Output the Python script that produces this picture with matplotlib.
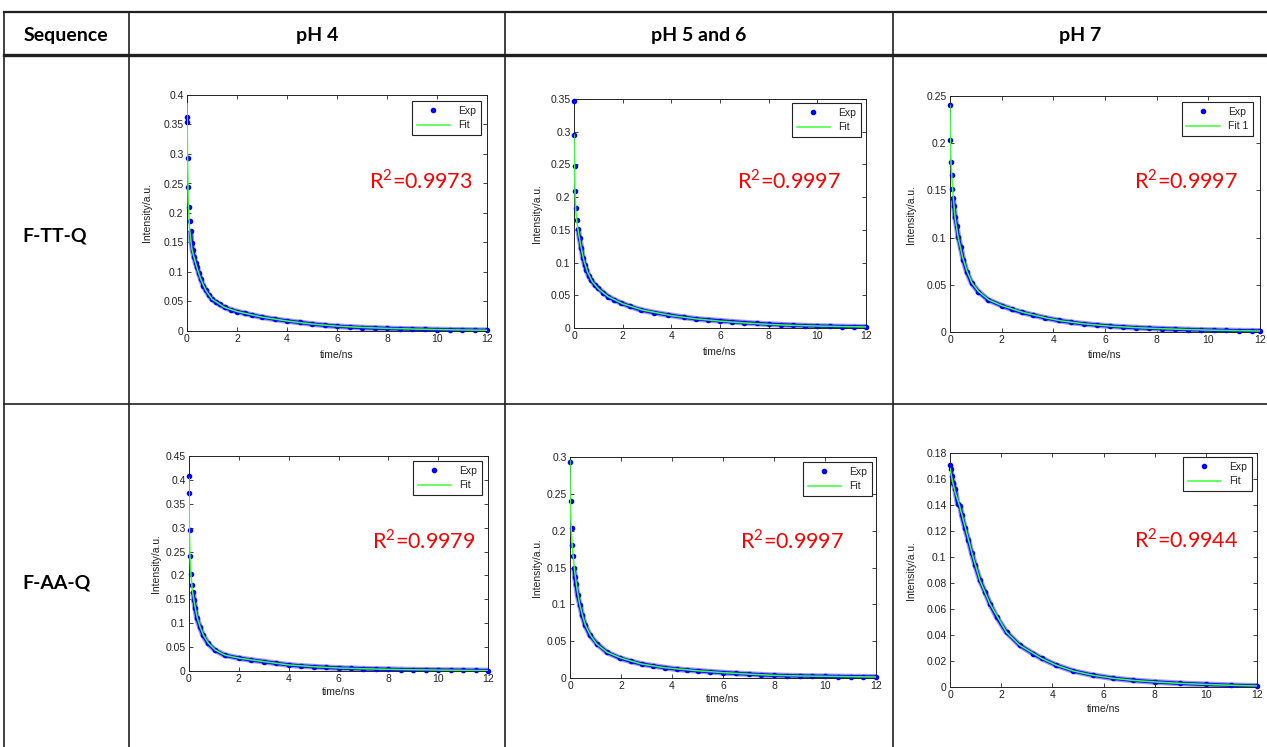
import matplotlib
matplotlib.use("Agg")
import matplotlib.pyplot as plt
from matplotlib.lines import Line2D
from matplotlib.ticker import MultipleLocator, FuncFormatter

plt.rcParams["mathtext.fontset"] = "custom"
plt.rcParams["mathtext.rm"] = "Lato"

# ---- table text ----
header_labels = ["Sequence", "pH 4", "pH 5 and 6", "pH 7"]
row_labels = ["F-TT-Q", "F-AA-Q"]

# ---- fluorescence decay traces (time in ns, intensity in a.u.) ----
# F-TT-Q, pH 4
t_ttq_4 = [0.0, 0.01, 0.02, 0.04, 0.07, 0.10, 0.14, 0.18, 0.22, 0.28, 0.34, 0.40, 0.47,
           0.55, 0.65, 0.75, 0.87, 1.0, 1.15, 1.3, 1.5, 1.75, 2.0, 2.3, 2.6, 3.0, 3.5,
           4.0, 4.5, 5.0, 5.5, 6.0, 6.5, 7.0, 7.5, 8.0, 8.5, 9.0, 9.5, 10.0, 10.5, 11.0,
           11.5, 12.0]
exp_ttq_4 = [0.363, 0.355, 0.293, 0.244, 0.211, 0.186, 0.170, 0.149, 0.138, 0.126, 0.116,
             0.108, 0.098, 0.088, 0.077, 0.069, 0.061, 0.054, 0.049, 0.045, 0.040, 0.036,
             0.033, 0.030, 0.027, 0.0235, 0.020, 0.017, 0.0145, 0.0118, 0.0097, 0.008,
             0.0068, 0.0058, 0.005, 0.0043, 0.0037, 0.0032, 0.0028, 0.0024, 0.002, 0.0017,
             0.0014, 0.0012]
fit_t_ttq_4 = [0.0, 0.02, 0.05, 0.10, 0.15, 0.2, 0.28, 0.4, 0.55, 0.75, 1.0, 1.5, 2.0, 3.0,
               4.0, 5.0, 6.0, 7.0, 8.0, 9.0, 10.0, 11.0, 12.0]
fit_ttq_4 = [0.385, 0.30, 0.22, 0.175, 0.155, 0.138, 0.125, 0.107, 0.088, 0.069, 0.054,
             0.040, 0.033, 0.0235, 0.017, 0.0118, 0.0082, 0.006, 0.0045, 0.0034, 0.0025,
             0.0018, 0.0013]

# F-TT-Q, pH 5 and 6
t_ttq_56 = [0.0, 0.02, 0.04, 0.055, 0.07, 0.12, 0.16, 0.23, 0.30, 0.37, 0.44, 0.51, 0.60,
            0.71, 0.85, 0.99, 1.2, 1.4, 1.65, 1.95, 2.3, 2.77, 3.3, 3.86, 4.5, 5.0, 5.5,
            6.0, 6.5, 7.0, 7.5, 8.0, 8.5, 9.0, 9.5, 10.0, 10.5, 11.0, 11.5, 12.0]
exp_ttq_56 = [0.347, 0.295, 0.247, 0.209, 0.184, 0.165, 0.152, 0.137, 0.122, 0.107, 0.097,
              0.089, 0.080, 0.073, 0.066, 0.061, 0.054, 0.048, 0.043, 0.038, 0.033, 0.0275,
              0.0235, 0.020, 0.0165, 0.014, 0.0125, 0.011, 0.0095, 0.0082, 0.007, 0.0058,
              0.005, 0.0042, 0.0036, 0.003, 0.0026, 0.0022, 0.0019, 0.0016]
fit_t_ttq_56 = [0.0, 0.02, 0.04, 0.07, 0.12, 0.2, 0.3, 0.4, 0.55, 0.75, 1.0, 1.4, 2.0, 2.8,
                4.0, 5.0, 6.0, 7.0, 8.0, 9.0, 10.0, 11.0, 12.0]
fit_ttq_56 = [0.295, 0.25, 0.21, 0.18, 0.162, 0.142, 0.122, 0.104, 0.086, 0.071, 0.060,
              0.048, 0.037, 0.0275, 0.019, 0.014, 0.0105, 0.0078, 0.0055, 0.004, 0.003,
              0.0022, 0.0016]

# F-TT-Q, pH 7
t_ttq_7 = [0.0, 0.01, 0.026, 0.065, 0.09, 0.116, 0.155, 0.19, 0.26, 0.32, 0.41, 0.52, 0.645,
           0.84, 1.1, 1.48, 2.0, 2.4, 2.77, 3.2, 3.68, 4.2, 4.7, 5.2, 5.7, 6.2, 6.7, 7.2,
           7.7, 8.2, 8.7, 9.2, 9.7, 10.2, 10.7, 11.2, 11.7, 12.0]
exp_ttq_7 = [0.2405, 0.203, 0.180, 0.166, 0.151, 0.142, 0.133, 0.122, 0.112, 0.101, 0.090,
             0.076, 0.064, 0.0516, 0.0427, 0.034, 0.028, 0.024, 0.021, 0.018, 0.015, 0.0122,
             0.0102, 0.0086, 0.0073, 0.0062, 0.0053, 0.0046, 0.004, 0.0035, 0.003, 0.0026,
             0.0022, 0.0019, 0.0016, 0.0014, 0.0012, 0.0011]
fit_t_ttq_7 = [0.0, 0.02, 0.06, 0.1, 0.15, 0.2, 0.32, 0.48, 0.65, 0.85, 1.1, 1.5, 2.0, 2.8,
               3.7, 4.3, 5.2, 6.2, 7.2, 8.2, 9.2, 10.2, 11.2, 12.0]
fit_ttq_7 = [0.24, 0.19, 0.17, 0.152, 0.135, 0.12, 0.10, 0.08, 0.065, 0.052, 0.043, 0.034,
             0.028, 0.021, 0.015, 0.0118, 0.0086, 0.0062, 0.0046, 0.0035, 0.0026, 0.0019,
             0.0014, 0.0011]

# F-AA-Q, pH 4
t_aaq_4 = [0.0, 0.01, 0.027, 0.05, 0.09, 0.13, 0.16, 0.2, 0.25, 0.32, 0.43, 0.56, 0.76, 1.03,
           1.43, 2.0, 2.5, 3.0, 3.5, 4.0, 4.5, 5.0, 5.5, 6.0, 6.5, 7.0, 7.5, 8.0, 8.5, 9.0,
           9.5, 10.0, 10.5, 11.0, 11.5, 12.0]
exp_aaq_4 = [0.408, 0.373, 0.295, 0.241, 0.203, 0.181, 0.166, 0.149, 0.131, 0.110, 0.093,
             0.075, 0.058, 0.044, 0.033, 0.027, 0.023, 0.0197, 0.016, 0.0127, 0.0105, 0.009,
             0.0075, 0.0063, 0.0054, 0.0047, 0.004, 0.0035, 0.003, 0.0026, 0.0023, 0.002,
             0.0017, 0.0014, 0.0011, 0.0009]
fit_t_aaq_4 = [0.0, 0.015, 0.04, 0.08, 0.13, 0.19, 0.26, 0.34, 0.45, 0.58, 0.78, 1.05, 1.45,
               2.0, 3.0, 4.0, 5.0, 6.0, 7.0, 8.0, 9.0, 10.0, 11.0, 12.0]
fit_aaq_4 = [0.404, 0.30, 0.24, 0.20, 0.17, 0.15, 0.13, 0.11, 0.092, 0.075, 0.058, 0.044,
             0.033, 0.027, 0.0197, 0.0127, 0.009, 0.0063, 0.0047, 0.0035, 0.0026, 0.002,
             0.0014, 0.0009]

# F-AA-Q, pH 5 and 6
t_aaq_56 = [0.0, 0.026, 0.065, 0.09, 0.13, 0.157, 0.196, 0.235, 0.3, 0.39, 0.48, 0.59, 0.78,
            1.05, 1.44, 1.96, 2.4, 2.81, 3.25, 3.73, 4.2, 4.6, 5.0, 5.5, 6.0, 6.5, 7.0, 7.5,
            8.0, 8.5, 9.0, 9.5, 10.0, 10.5, 11.0, 11.5, 12.0]
exp_aaq_56 = [0.293, 0.240, 0.204, 0.181, 0.166, 0.149, 0.137, 0.127, 0.112, 0.099, 0.085,
              0.072, 0.058, 0.0466, 0.035, 0.027, 0.0225, 0.019, 0.0165, 0.014, 0.012,
              0.0108, 0.0098, 0.0085, 0.0073, 0.0063, 0.0053, 0.0044, 0.0036, 0.0032,
              0.0028, 0.0025, 0.0023, 0.002, 0.0018, 0.0016, 0.0014]
fit_t_aaq_56 = [0.0, 0.01, 0.05, 0.09, 0.14, 0.2, 0.28, 0.38, 0.49, 0.6, 0.8, 1.05, 1.45,
                2.0, 2.8, 3.7, 5.0, 6.0, 7.0, 8.0, 9.0, 10.0, 11.0, 12.0]
fit_aaq_56 = [0.295, 0.235, 0.20, 0.178, 0.16, 0.14, 0.12, 0.10, 0.085, 0.072, 0.058, 0.046,
              0.035, 0.027, 0.019, 0.014, 0.0098, 0.0073, 0.0053, 0.0036, 0.0028, 0.0023,
              0.0018, 0.0014]

# F-AA-Q, pH 7
t_aaq_7 = [0.0, 0.02, 0.065, 0.13, 0.2, 0.3, 0.4, 0.46, 0.59, 0.72, 0.85, 0.98, 1.17, 1.37,
           1.56, 1.82, 2.21, 2.73, 3.25, 3.58, 4.16, 4.82, 5.6, 6.38, 7.16, 8.0, 9.0, 10.0,
           11.0, 12.0]
exp_aaq_7 = [0.171, 0.168, 0.162, 0.157, 0.152, 0.141, 0.139, 0.132, 0.122, 0.113, 0.103,
             0.094, 0.082, 0.073, 0.064, 0.054, 0.042, 0.032, 0.0257, 0.022, 0.0167, 0.0123,
             0.009, 0.0067, 0.0051, 0.0039, 0.0028, 0.002, 0.0013, 0.0008]
fit_t_aaq_7 = [0.0, 0.1, 0.2, 0.35, 0.5, 0.7, 0.9, 1.17, 1.56, 2.21, 2.73, 3.58, 4.16, 4.82,
               5.6, 6.38, 7.16, 8.0, 9.0, 10.0, 11.0, 12.0]
fit_aaq_7 = [0.168, 0.158, 0.150, 0.141, 0.130, 0.115, 0.100, 0.082, 0.064, 0.042, 0.032,
             0.022, 0.0167, 0.0123, 0.009, 0.0067, 0.0051, 0.0039, 0.0028, 0.002, 0.0013,
             0.0008]

r2_values = ["0.9973", "0.9997", "0.9997", "0.9979", "0.9997", "0.9944"]
fit_labels = ["Fit", "Fit", "Fit 1", "Fit", "Fit", "Fit"]
y_max = [0.4, 0.35, 0.25, 0.45, 0.3, 0.18]
y_step = [0.05, 0.05, 0.05, 0.05, 0.05, 0.02]

traces = [
    (t_ttq_4, exp_ttq_4, fit_t_ttq_4, fit_ttq_4),
    (t_ttq_56, exp_ttq_56, fit_t_ttq_56, fit_ttq_56),
    (t_ttq_7, exp_ttq_7, fit_t_ttq_7, fit_ttq_7),
    (t_aaq_4, exp_aaq_4, fit_t_aaq_4, fit_aaq_4),
    (t_aaq_56, exp_aaq_56, fit_t_aaq_56, fit_aaq_56),
    (t_aaq_7, exp_aaq_7, fit_t_aaq_7, fit_aaq_7),
]

# ---- layout (pixels) ----
W, H = 1267, 747
fig = plt.figure(figsize=(W / 100, H / 100), dpi=100)
fig.patch.set_facecolor("white")


def fx(px):
    return px / W


def fy(py):
    return 1 - py / H


# axes boxes: left, right, top, bottom
axes_px = [(187, 487, 95, 331), (574, 866, 99, 328), (950, 1260, 96, 332),
           (189, 488, 456, 671), (570, 876, 457, 678), (950, 1257, 453, 687)]
ylabel_x = [147, 537, 911, 156, 537, 911]
xlabel_y = [355, 352, 355, 692, 699, 709]
legend_px = [(481, 101), (861, 103), (1253, 102), (482, 461), (872, 462), (1252, 457)]
r2_px = [(421, 181), (789, 181), (1186, 181), (424, 541), (792, 541), (1186, 540)]
band_start = [6, 6, 5, 6, 5, 0]

tick_font = dict(family="Liberation Sans", size=7.5)
fmt = FuncFormatter(lambda v, pos: f"{v:.4g}" if abs(v) > 1e-9 else "0")

for i, (t, e, ft, fv) in enumerate(traces):
    l, r, tp, b = axes_px[i]
    ax = fig.add_axes([fx(l), fy(b), (r - l) / W, (b - tp) / H])
    k = band_start[i]
    # dense band of measured points
    ax.plot(t[k:], e[k:], color="#9a9aff", lw=4.2, solid_capstyle="butt", zorder=2)
    ax.plot(t[k:], e[k:], color="#0a0aff", lw=2.4, solid_capstyle="butt", zorder=2.1)
    ax.plot(t, e, ".", color="#0000ff", ms=6, label="Exp", zorder=3, clip_on=False)
    ax.plot(ft, fv, "-", color="#3cff3c", lw=1.1, label=fit_labels[i], zorder=4)

    ax.set_xlim(0, 12)
    ax.set_ylim(0, y_max[i])
    ax.xaxis.set_major_locator(MultipleLocator(2))
    ax.yaxis.set_major_locator(MultipleLocator(y_step[i]))
    ax.xaxis.set_major_formatter(fmt)
    ax.yaxis.set_major_formatter(fmt)
    ax.tick_params(direction="in", length=3, width=0.6, top=True, right=True,
                   colors="#222222", pad=2.5)
    for lab in ax.get_xticklabels() + ax.get_yticklabels():
        lab.set_fontfamily("Liberation Sans")
        lab.set_fontsize(7.5)
    for sp in ax.spines.values():
        sp.set_linewidth(0.7)
        sp.set_color("#222222")

    ax.set_xlabel("time/ns", fontdict=tick_font, color="#222222")
    ax.set_ylabel("Intensity/a.u.", fontdict=tick_font, color="#222222")
    ax.xaxis.label.set_verticalalignment("center")
    ax.yaxis.label.set_verticalalignment("center")
    ax.xaxis.set_label_coords(0.5, -(xlabel_y[i] - b) / (b - tp))
    ax.yaxis.set_label_coords((ylabel_x[i] - l) / (r - l), 0.5)

    lx, ly = legend_px[i]
    leg = ax.legend(loc="upper right", bbox_to_anchor=(fx(lx), fy(ly)),
                    bbox_transform=fig.transFigure, borderaxespad=0, fancybox=False,
                    framealpha=1, edgecolor="#222222", numpoints=1, handlelength=3.2,
                    handletextpad=0.8, labelspacing=0.45, borderpad=0.45,
                    prop=dict(family="Liberation Sans", size=7.5))
    leg.get_frame().set_linewidth(0.8)
    for txt in leg.get_texts():
        txt.set_color("#222222")

    rx, ry = r2_px[i]
    fig.text(fx(rx), fy(ry), "R$^{\\mathrm{2}}$=" + r2_values[i], color="#ff0000",
             family="Lato", fontsize=15.5, ha="center", va="center")

# ---- table grid ----
def hline(y, x0, x1, lw):
    fig.add_artist(Line2D([fx(x0), fx(x1)], [fy(y), fy(y)], transform=fig.transFigure,
                          color="#202020", lw=lw))


def vline(x, y0, y1, lw):
    fig.add_artist(Line2D([fx(x), fx(x)], [fy(y0), fy(y1)], transform=fig.transFigure,
                          color="#202020", lw=lw))


hline(12, 4, W, 1.6)
hline(55, 4, W, 2.4)
hline(404, 4, W, 1.2)
for xv in (4, 129, 505, 893):
    vline(xv, 12, H, 1.2)

header_x = [66, 317, 699, 1080]
for hx, txt in zip(header_x, header_labels):
    fig.text(fx(hx), fy(35), txt, family="Lato", weight="bold", fontsize=14,
             ha="center", va="center", color="#000000")
for ry, txt in zip((236, 583), row_labels):
    fig.text(fx(22), fy(ry), txt, family="Lato", weight="bold", fontsize=14,
             ha="left", va="center", color="#000000")

fig.savefig("out.png", dpi=100, facecolor="white")
